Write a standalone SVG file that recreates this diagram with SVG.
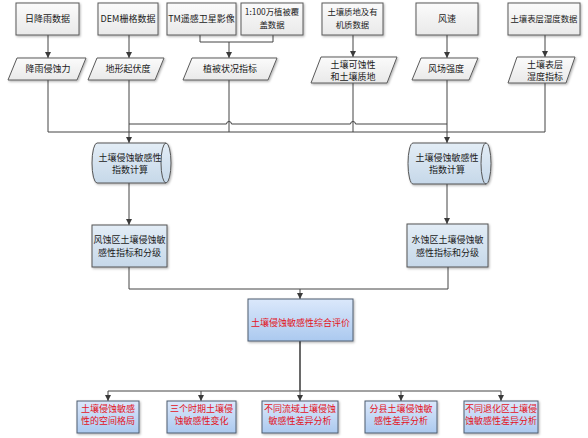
<svg xmlns="http://www.w3.org/2000/svg" width="588" height="438" viewBox="0 0 588 438">
<defs>
<linearGradient id="gGray" x1="0" y1="0" x2="0" y2="1"><stop offset="0" stop-color="#fbfbfb"/><stop offset="1" stop-color="#e9e9e9"/></linearGradient>
<linearGradient id="gBlue1" x1="0" y1="0" x2="0" y2="1"><stop offset="0" stop-color="#e3edf6"/><stop offset="1" stop-color="#c6d8e9"/></linearGradient>
<linearGradient id="gBlue2" x1="0" y1="0" x2="0" y2="1"><stop offset="0" stop-color="#dbe8fb"/><stop offset="1" stop-color="#abc9ef"/></linearGradient>
<filter id="sh" x="-10%" y="-10%" width="125%" height="135%"><feDropShadow dx="1" dy="1.2" stdDeviation="0.8" flood-color="#000" flood-opacity="0.3"/></filter>
<marker id="ar" markerUnits="userSpaceOnUse" markerWidth="7" markerHeight="7" refX="6" refY="3.5" orient="auto"><path d="M0,0.5 L6,3.5 L0,6.5 z" fill="#3a3a3a"/></marker>
<style>
.g{fill:url(#gGray);stroke:#5a5a5a;stroke-width:1;filter:url(#sh)}
.b1{fill:url(#gBlue1);stroke:#555;stroke-width:1;filter:url(#sh)}
.b2{fill:url(#gBlue2);stroke:#4e5e70;stroke-width:1;filter:url(#sh)}
.t{font-family:"Noto Sans CJK SC","Noto Sans",sans-serif;font-size:9px;fill:#1a1a1a;text-anchor:middle}
.s{font-size:8.4px}
.r{fill:#e3121b}
.ln{stroke:#444;stroke-width:1;fill:none}
.arr{marker-end:url(#ar)}
</style>
</defs>
<rect width="588" height="438" fill="#ffffff"/>

<g id="connectors">
<line class="ln arr" x1="48" y1="35" x2="48" y2="58"/>
<line class="ln arr" x1="129" y1="35" x2="129" y2="58"/>
<path class="ln" d="M200,35 V42 H273 V35"/>
<line class="ln arr" x1="229" y1="42" x2="229" y2="58"/>
<line class="ln arr" x1="353" y1="35" x2="353" y2="57"/>
<line class="ln arr" x1="447" y1="35" x2="447" y2="58"/>
<line class="ln arr" x1="545" y1="35" x2="545" y2="57"/>

<line class="ln" x1="48" y1="80" x2="48" y2="132"/>
<line class="ln" x1="229" y1="80" x2="229" y2="132"/>
<line class="ln" x1="353" y1="83" x2="353" y2="132"/>
<line class="ln" x1="545" y1="83" x2="545" y2="132"/>
<line class="ln" x1="48" y1="132" x2="545" y2="132"/>
<path class="ln" d="M129,124 H226.5 A2.5,2.5 0 0 1 231.5,124 H350.5 A2.5,2.5 0 0 1 355.5,124 H447"/>
<line class="ln arr" x1="129" y1="80" x2="129" y2="143"/>
<line class="ln arr" x1="447" y1="80" x2="447" y2="143"/>

<line class="ln arr" x1="129" y1="183" x2="129" y2="225"/>
<line class="ln arr" x1="447" y1="184" x2="447" y2="224"/>

<path class="ln" d="M129,267 V289 H448 V267"/>
<line class="ln arr" x1="300" y1="289" x2="300" y2="299"/>

<line class="ln" x1="300" y1="341" x2="300" y2="391" style="stroke-width:1.6"/>
<line class="ln" x1="108" y1="391" x2="501" y2="391"/>
<line class="ln arr" x1="108" y1="391" x2="108" y2="401"/>
<line class="ln arr" x1="201" y1="391" x2="201" y2="401"/>
<line class="ln arr" x1="300" y1="391" x2="300" y2="401"/>
<line class="ln arr" x1="401" y1="391" x2="401" y2="401"/>
<line class="ln arr" x1="501" y1="391" x2="501" y2="401"/>
</g>

<g id="n-rain"><rect class="g" x="16" y="3" width="63" height="32"/><text class="t" x="47.5" y="21.5">日降雨数据</text></g>
<g id="n-dem"><rect class="g" x="98" y="3" width="60" height="32"/><text class="t" x="128" y="21.5">DEM栅格数据</text></g>
<g id="n-tm"><rect class="g" x="167" y="3" width="69" height="32"/><text class="t" x="201.5" y="21.5">TM遥感卫星影像</text></g>
<g id="n-veg"><rect class="g" x="241" y="3" width="62" height="32"/><text class="t s" x="272" y="15">1:100万植被覆</text><text class="t s" x="272" y="27.5">盖数据</text></g>
<g id="n-soil"><rect class="g" x="322" y="3" width="61" height="32"/><text class="t s" x="352.5" y="15">土壤质地及有</text><text class="t s" x="352.5" y="27.5">机质数据</text></g>
<g id="n-wind"><rect class="g" x="416" y="3" width="62" height="32"/><text class="t" x="447" y="21.5">风速</text></g>
<g id="n-moist"><rect class="g" x="508" y="3" width="72" height="32"/><text class="t s" x="544" y="21.5">土壤表层湿度数据</text></g>

<g id="p-rain"><polygon class="g" points="17,58 86,58 77,80 8,80"/><text class="t" x="48" y="72">降雨侵蚀力</text></g>
<g id="p-dem"><polygon class="g" points="97,58 164,58 155,80 88,80"/><text class="t" x="128" y="72">地形起伏度</text></g>
<g id="p-veg"><polygon class="g" points="192,58 277,58 268,80 183,80"/><text class="t" x="230" y="72">植被状况指标</text></g>
<g id="p-soil"><polygon class="g" points="321,57 397,57 387,83 311,83"/><text class="t" x="353" y="67.5">土壤可蚀性</text><text class="t" x="353" y="79.5">和土壤质地</text></g>
<g id="p-wind"><polygon class="g" points="421,58 478,58 469,80 412,80"/><text class="t" x="446" y="72">风场强度</text></g>
<g id="p-moist"><polygon class="g" points="517,57 575,57 566,83 508,83"/><text class="t" x="545" y="67.5">土壤表层</text><text class="t" x="545" y="79.5">湿度指标</text></g>

<g id="c-left"><path class="b1" d="M97,143 H166 A5,20 0 0 1 166,183 H97 A5,20 0 0 1 97,143 Z"/><path class="ln" d="M166,143 A5,20 0 0 0 166,183" style="stroke:#555"/><text class="t" x="130" y="160.5">土壤侵蚀敏感性</text><text class="t" x="130" y="172.5">指数计算</text></g>
<g id="c-right"><path class="b1" d="M413,143 H486 A5,20.5 0 0 1 486,184 H413 A5,20.5 0 0 1 413,143 Z"/><path class="ln" d="M486,143 A5,20.5 0 0 0 486,184" style="stroke:#555"/><text class="t" x="447" y="160.5">土壤侵蚀敏感性</text><text class="t" x="447" y="172.5">指数计算</text></g>

<g id="b-windzone"><rect class="b1" x="92" y="225" width="75" height="42"/><text class="t" x="129.5" y="242.5">风蚀区土壤侵蚀敏</text><text class="t" x="129.5" y="255.5">感性指标和分级</text></g>
<g id="b-waterzone"><rect class="b1" x="407" y="224" width="81" height="43"/><text class="t" x="447.5" y="242.5">水蚀区土壤侵蚀敏</text><text class="t" x="447.5" y="255.5">感性指标和分级</text></g>

<g id="b-eval"><rect class="b2" x="248" y="299" width="105" height="42"/><text class="t r" x="300.5" y="325.5">土壤侵蚀敏感性综合评价</text></g>

<g id="o1"><rect class="b2" x="77" y="401" width="62" height="32"/><text class="t r" x="108" y="412">土壤侵蚀敏感</text><text class="t r" x="108" y="424">性的空间格局</text></g>
<g id="o2"><rect class="b2" x="167" y="401" width="69" height="32"/><text class="t r" x="201.5" y="412">三个时期土壤侵</text><text class="t r" x="201.5" y="424">蚀敏感性变化</text></g>
<g id="o3"><rect class="b2" x="262" y="401" width="76" height="32"/><text class="t r" x="300" y="412">不同流域土壤侵蚀</text><text class="t r" x="300" y="424">敏感性差异分析</text></g>
<g id="o4"><rect class="b2" x="365" y="401" width="72" height="32"/><text class="t r" x="401" y="412">分县土壤侵蚀敏</text><text class="t r" x="401" y="424">感性差异分析</text></g>
<g id="o5"><rect class="b2" x="464" y="401" width="74" height="32"/><text class="t r" x="501" y="412">不同退化区土壤侵</text><text class="t r" x="501" y="424">蚀敏感性差异分析</text></g>
</svg>
